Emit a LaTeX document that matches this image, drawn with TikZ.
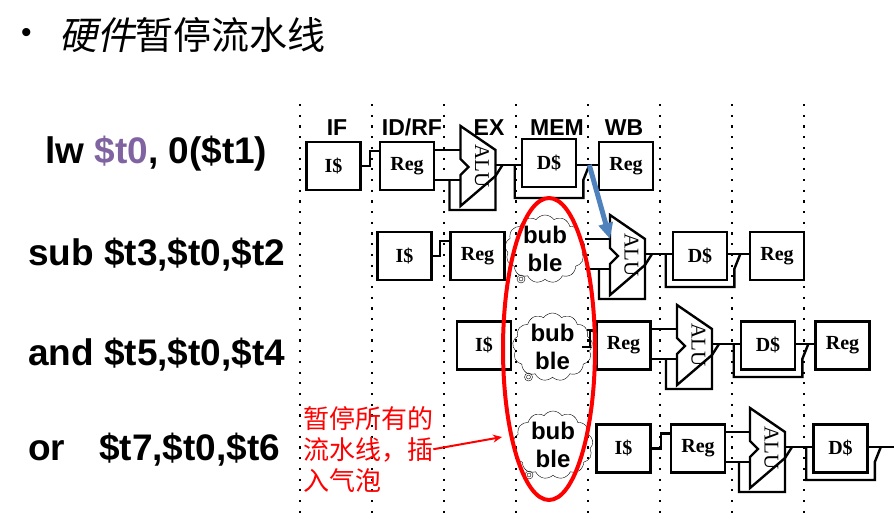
\documentclass[tikz,border=0pt]{standalone}
\usepackage{fontspec}
\setmainfont{Liberation Serif}
\setsansfont{Liberation Sans}
\newfontfamily\cjk{Noto Sans CJK SC}
\newfontfamily\cjkslant[FakeSlant=0.2]{Noto Sans CJK SC}
\usepackage{tikz}
\usetikzlibrary{shapes}
\usetikzlibrary{arrows.meta}
\usetikzlibrary{positioning}
\usetikzlibrary{calc}
\definecolor{fwdblue}{RGB}{79,129,189}
\definecolor{regpurple}{RGB}{128,100,162}
\tikzstyle{unit}=[rectangle,draw,line width=2.6pt,minimum width=54,minimum height=48,inner sep=0pt,
        font=\bfseries\fontsize{20}{24}\selectfont]
\tikzstyle{alubox}=[rectangle,minimum width=35,minimum height=80,inner sep=0pt,outer sep=0pt]
\tikzstyle{alutext}=[rotate=-90,inner sep=0pt,font=\fontsize{21}{24}\selectfont]
\tikzstyle{wire}=[line width=2.4pt]
\tikzstyle{stagegrid}=[line width=2.2pt,dash pattern=on 2.2pt off 8.5pt]
\tikzstyle{bubble}=[cloud,cloud puffs=13,cloud puff arc=110,aspect=1.2,draw,thin,
        minimum width=80,minimum height=68,inner sep=0pt]
\tikzstyle{bubtext}=[align=center,inner sep=0pt,font=\sffamily\bfseries\fontsize{24}{28}\selectfont]
\tikzstyle{puff}=[thin]
\tikzstyle{stage}=[anchor=base,inner sep=0pt,font=\sffamily\bfseries\fontsize{23}{27}\selectfont]
\tikzstyle{instr}=[anchor=base west,inner sep=0pt,font=\sffamily\bfseries\fontsize{37}{40}\selectfont]
\tikzstyle{note}=[anchor=north west,text=red,align=left,inner sep=0pt,font=\cjk\fontsize{26}{31}\selectfont]
\tikzstyle{stallring}=[ellipse,draw=red,line width=4pt,minimum width=92,minimum height=302,inner sep=0pt]
\tikzstyle{fwd}=[-{Triangle[length=16pt,width=14pt]},line width=5pt,draw=fwdblue]
\tikzstyle{hint}=[-{Stealth[length=9pt,width=8pt]},line width=2pt,draw=red]
\newcommand{\aluunit}[3]{%
  \node[alubox] (#1) at (#2,#3) {};
  \draw[wire] (#1.north west) -- ++(35,24) -- ++(0,26) -- ++(-35,30) -- ++(0,-31) -- ++(8,-8) -- ++(-8,-8) -- cycle;
  \node[alutext] at ($(#1.center)+(4,0)$) {ALU};
  \coordinate (#1-a) at ($(#1.north west)+(0,24)$);
  \coordinate (#1-b) at ($(#1.north west)+(0,54)$);
  \coordinate (#1-o) at ($(#1.north east)+(0,39)$);
}
\begin{document}
\begin{tikzpicture}[x=1pt,y=-1pt]
\useasboundingbox (0,0) rectangle (894,517);
%title
\node[anchor=west,inner sep=0pt,font=\sffamily\fontsize{30}{36}\selectfont] (bullet) at (21,35) {•};
\node[anchor=west,inner sep=0pt,font=\fontsize{38}{42}\selectfont] (title) at (59,35) {{\cjkslant 硬件}\cjk 暂停流水线};
%pipeline stages
\foreach \x in {300,372,...,804}
  \draw[stagegrid] (\x,104) -- (\x,517);
\node[stage] (if) at (337,135) {IF};
\node[stage] (id) at (412,135) {ID/RF};
\node[stage] (ex) at (489,135) {EX};
\node[stage] (mem) at (557,135) {MEM};
\node[stage] (wb) at (624,135) {WB};
%instructions
\node[instr] (lwi) at (45,163) {lw {\color{regpurple}\$t0}, 0(\$t1)};
\node[instr] (subi) at (28,265) {sub \$t3,\$t0,\$t2};
\node[instr] (andi) at (28,365) {and \$t5,\$t0,\$t4};
\node[instr] (ori) at (28,460) {or\hspace{34pt}\$t7,\$t0,\$t6};
%bubbles
\node[bubble] (bub2) at (545,249) {};
\node[bubble] (bub3) at (552.5,347) {};
\node[bubble] (bub4) at (553,445) {};
\node[bubtext] (bt2) at (bub2.center) {bub\\ble};
\node[bubtext] (bt3) at (bub3.center) {bub\\ble};
\node[bubtext] (bt4) at (bub4.center) {bub\\ble};
\draw[puff] ($(bub2.center)+(-24,30)$) circle (4) circle (2);
\draw[puff] ($(bub3.center)+(-24,30)$) circle (4) circle (2);
\draw[puff] ($(bub4.center)+(-24,30)$) circle (4) circle (2);
%lw
\node[unit] (is1) at (333.5,166) {I\$};
\node[unit] (rg1) at (407,166) {Reg};
\aluunit{alu1}{478}{166}
\node[unit] (ds1) at (549,163) {D\$};
\node[unit] (wb1) at (626,166) {Reg};
\draw[wire] (is1.east) -| ($(rg1.west)+(-9,-15)$) -- ($(rg1.west)+(0,-15)$);
\draw[wire] (rg1.east |- alu1-a) -- (alu1-a);
\draw[wire] (rg1.east |- alu1-b) -- (alu1-b);
\draw[wire] ($(alu1-b)+(-11,0)$) -- ++(0,30) -| ($(alu1.north east)+(0,50)$) -- ($(alu1-o)+(7,0)$);
\draw[wire] (alu1-o) -- (ds1.west |- alu1-o);
\draw[wire] ($(ds1.west |- alu1-o)+(-6,0)$) -- ++(0,33) -| ($(ds1.east |- alu1-o)+(6,15)$) -- ($(ds1.east |- alu1-o)+(12,0)$);
\draw[wire] (ds1.east |- alu1-o) -- (wb1.west |- alu1-o);
%sub
\node[unit] (is2) at (404.5,256) {I\$};
\node[unit] (rg2) at (477.5,256) {Reg};
\aluunit{alu2}{627.5}{255}
\node[unit] (ds2) at (700,256) {D\$};
\node[unit] (wb2) at (777,256) {Reg};
\draw[wire] (is2.east) -| ($(rg2.west)+(-9,-15)$) -- ($(rg2.west)+(0,-15)$);
\draw[wire] (bub2.east |- alu2-a) -- (alu2-a);
\draw[wire] (bub2.east |- alu2-b) -- (alu2-b);
\draw[wire] ($(alu2-b)+(-11,0)$) -- ++(0,30) -| ($(alu2.north east)+(0,50)$) -- ($(alu2-o)+(7,0)$);
\draw[wire] (alu2-o) -- (ds2.west |- alu2-o);
\draw[wire] ($(ds2.west |- alu2-o)+(-6,0)$) -- ++(0,33) -| ($(ds2.east |- alu2-o)+(6,15)$) -- ($(ds2.east |- alu2-o)+(12,0)$);
\draw[wire] (ds2.east |- alu2-o) -- (wb2.west |- alu2-o);
%and
\node[unit] (is3) at (484,345.5) {I\$};
\node[unit] (rg3) at (623.5,345.5) {Reg};
\aluunit{alu3}{694.5}{345}
\node[unit] (ds3) at (768,345.5) {D\$};
\node[unit] (wb3) at (842.5,345.5) {Reg};
\draw[wire] ($(bub3.east)+(-10,0)$) -| ($(rg3.west)+(-5,-15)$) -- ($(rg3.west)+(0,-15)$);
\draw[wire] (rg3.east |- alu3-a) -- (alu3-a);
\draw[wire] (rg3.east |- alu3-b) -- (alu3-b);
\draw[wire] ($(alu3-b)+(-11,0)$) -- ++(0,30) -| ($(alu3.north east)+(0,50)$) -- ($(alu3-o)+(7,0)$);
\draw[wire] (alu3-o) -- (ds3.west |- alu3-o);
\draw[wire] ($(ds3.west |- alu3-o)+(-6,0)$) -- ++(0,33) -| ($(ds3.east |- alu3-o)+(6,15)$) -- ($(ds3.east |- alu3-o)+(12,0)$);
\draw[wire] (ds3.east |- alu3-o) -- (wb3.west |- alu3-o);
%or
\node[unit] (is4) at (623.5,448.5) {I\$};
\node[unit] (rg4) at (698,448.5) {Reg};
\aluunit{alu4}{767.5}{448}
\node[unit] (ds4) at (840.5,448.5) {D\$};
\coordinate (out4) at (894,447);
\draw[wire] (is4.east) -| ($(rg4.west)+(-9,-15)$) -- ($(rg4.west)+(0,-15)$);
\draw[wire] (rg4.east |- alu4-a) -- (alu4-a);
\draw[wire] (rg4.east |- alu4-b) -- (alu4-b);
\draw[wire] ($(alu4-b)+(-11,0)$) -- ++(0,30) -| ($(alu4.north east)+(0,50)$) -- ($(alu4-o)+(7,0)$);
\draw[wire] (alu4-o) -- (ds4.west |- alu4-o);
\draw[wire] ($(ds4.west |- alu4-o)+(-6,0)$) -- ++(0,33) -| ($(ds4.east |- alu4-o)+(6,15)$) -- ($(ds4.east |- alu4-o)+(12,0)$);
\draw[wire] (ds4.east |- alu4-o) -- (out4);
%stall
\node[stallring] (stall) at (549,349) {};
\node[note] (note) at (303,406) {暂停所有的\\流水线，插\\入气泡};
\coordinate (hintend) at (502,437);
\draw[hint] (note.east) -- (hintend);
\coordinate (fwdfrom) at ($(ds1.east |- alu1-o)+(12,0)$);
\draw[fwd] (fwdfrom) -- (alu2-a);
\end{tikzpicture}
\end{document}
